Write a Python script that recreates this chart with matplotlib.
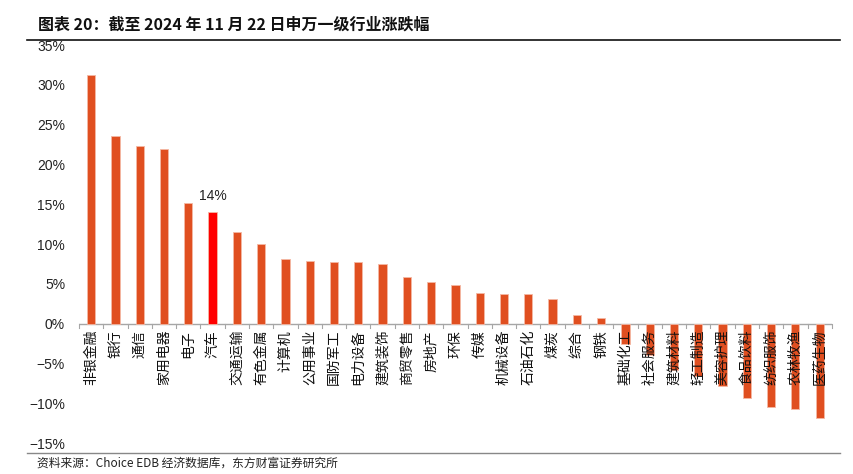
import numpy as np
import matplotlib.pyplot as plt
from matplotlib.ticker import FixedLocator

plt.rcParams['font.family'] = ['Noto Sans CJK SC', 'DejaVu Sans']

# 申万一级行业涨跌幅 (%), 截至 2024-11-22
industries = ["非银金融", "银行", "通信", "家用电器", "电子", "汽车", "交通运输", "有色金属",
              "计算机", "公用事业", "国防军工", "电力设备", "建筑装饰", "商贸零售", "房地产", "环保",
              "传媒", "机械设备", "石油石化", "煤炭", "综合", "钢铁", "基础化工", "社会服务",
              "建筑材料", "轻工制造", "美容护理", "食品饮料", "纺织服饰", "农林牧渔", "医药生物"]
changes = [31.2, 23.6, 22.3, 21.9, 15.2, 14.0, 11.45, 9.95,
           8.07, 7.9, 7.78, 7.73, 7.5, 5.85, 5.27, 4.9,
           3.9, 3.7, 3.7, 3.05, 1.04, 0.66, -2.5, -3.9,
           -5.8, -6.6, -7.8, -9.3, -10.45, -10.7, -11.9]
highlight = "汽车"
yticks = [-15, -10, -5, 0, 5, 10, 15, 20, 25, 30, 35]

base_color = "#E04F20"
hi_color = "#FF0000"

fig = plt.figure(figsize=(8.54, 4.74), dpi=100)
ax = fig.add_axes([0.0925, 0.0654, 0.8815, 0.8396])

x = np.arange(len(industries))
colors = [hi_color if n == highlight else base_color for n in industries]
ax.bar(x, changes, width=0.34, color=colors, edgecolor="#F4B8A4", linewidth=0.6, zorder=2)

hi = industries.index(highlight)
ax.text(x[hi], changes[hi] + 1.2, f"{changes[hi]:.0f}%", ha="center", va="bottom",
        fontsize=10, family=["Liberation Sans"], color="#222222")

ax.set_xlim(-0.5, len(industries) - 0.5)
ax.set_ylim(-15, 35)
ax.set_yticks(yticks)
ax.set_yticklabels([f"{v}%".replace("-", "\u2212") for v in yticks],
                   family=["Liberation Sans"], fontsize=10, color="#222222")
ax.tick_params(axis="y", length=0, pad=10)

# category labels just below the zero line, drawn over the bars
ax.set_xticks([])
for i, name in enumerate(industries):
    ax.text(x[i], -0.8, name, rotation=90, ha="center", va="top", fontsize=10,
            color="#111111", zorder=3)

# zero line with boundary ticks
ax.axhline(0, color="#A6A6A6", linewidth=1.0, zorder=1)
for b in np.arange(-0.5, len(industries) + 0.5, 1.0):
    ax.plot([b, b], [0, -0.55], color="#A6A6A6", linewidth=0.8, zorder=1, clip_on=False)

for s in ax.spines.values():
    s.set_visible(False)

# title and source with rules
fig.text(38 / 854, 1 - 25 / 474, "图表 20：截至 2024 年 11 月 22 日申万一级行业涨跌幅",
         fontsize=11.5, fontweight="bold", ha="left", va="center", color="#111111")
fig.add_artist(plt.Line2D([27 / 854, 840 / 854], [1 - 40 / 474, 1 - 40 / 474],
                          color="#111111", linewidth=1.2))
fig.add_artist(plt.Line2D([27 / 854, 840 / 854], [1 - 453 / 474, 1 - 453 / 474],
                          color="#888888", linewidth=1.0))
fig.text(37 / 854, 1 - 463 / 474, "资料来源：Choice EDB 经济数据库，东方财富证券研究所",
         fontsize=8.5, ha="left", va="center", color="#222222")

fig.savefig("out.png", dpi=100)
